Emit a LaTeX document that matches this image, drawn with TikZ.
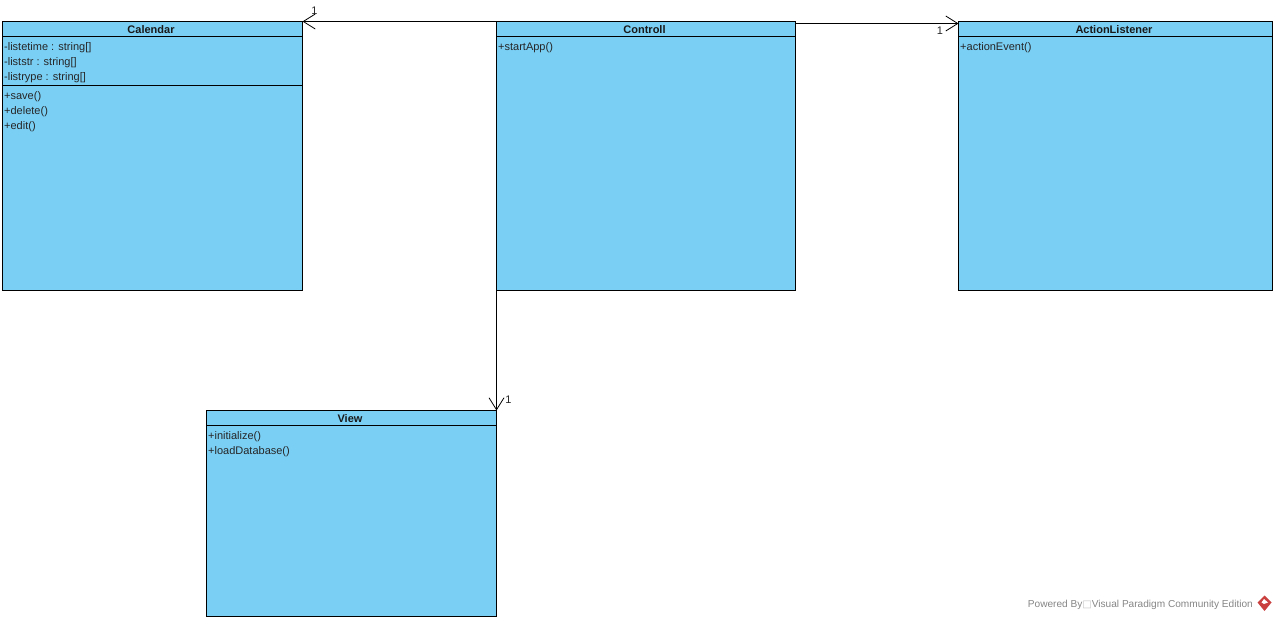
\documentclass[tikz,border=0pt]{standalone}
\usepackage{fontspec}
\setmainfont{Liberation Sans}
\newfontfamily\boxfont{DejaVu Sans}
\usetikzlibrary{arrows.meta}
\definecolor{classblue}{HTML}{7ACFF5}
\definecolor{stampgray}{HTML}{858585}
\definecolor{stampred}{HTML}{C9403F}
\tikzset{
	part/.style={draw=black, fill=classblue, line width=1pt, inner sep=0pt, outer sep=0pt, anchor=north west},
	classname/.style={font=\fontsize{11}{13}\selectfont\bfseries, inner sep=0pt, text=black!90, yshift=-0.7pt},
	member/.style={font=\fontsize{11}{13}\selectfont, inner sep=0pt, anchor=west, text=black!85},
	multi/.style={font=\fontsize{11}{13}\selectfont, inner sep=0pt, text=black!85},
	assoc/.style={draw=black, line width=1pt, -{Straight Barb[length=12pt,width=15pt,line width=0.8pt]}}
}

\begin{document}
\begin{tikzpicture}[x=1pt, y=-1pt]
				%%%%% START %%%%%
				\useasboundingbox (0, 0) rectangle (1276, 620);
				
				% Calendar
				\node[part, minimum width=300pt, minimum height=15pt] (Calendar) at (2.5, 21.5) {};
				\node[part, minimum width=300pt, minimum height=49pt] (CalendarAttrs) at (2.5, 36.5) {};
				\node[part, minimum width=300pt, minimum height=205pt] (CalendarOps) at (2.5, 85.5) {};
				\node[classname] (CalendarName) at ([xshift=-1.5pt]Calendar.center) {Calendar};
				\node[member] (listetime) at (4, 47.5) {-listetime : string[]};
				\node[member] (liststr) at (4, 62.5) {-liststr : string[]};
				\node[member] (listrype) at (4, 77.5) {-listrype : string[]};
				\node[member] (save) at (4, 96.5) {+save()};
				\node[member] (delete) at (4, 111.5) {+delete()};
				\node[member] (edit) at (4, 126.5) {+edit()};
				
				% Controll
				\node[part, minimum width=299pt, minimum height=15pt] (Controll) at (496.5, 21.5) {};
				\node[part, minimum width=299pt, minimum height=254pt] (ControllOps) at (496.5, 36.5) {};
				\node[classname] (ControllName) at ([xshift=-1.5pt]Controll.center) {Controll};
				\node[member] (startApp) at (498, 47.5) {+startApp()};
				
				% ActionListener
				\node[part, minimum width=314pt, minimum height=15pt] (ActionListener) at (958.5, 21.5) {};
				\node[part, minimum width=314pt, minimum height=254pt] (ActionListenerOps) at (958.5, 36.5) {};
				\node[classname] (ActionListenerName) at ([xshift=-1.5pt]ActionListener.center) {ActionListener};
				\node[member] (actionEvent) at (960, 47.5) {+actionEvent()};
				
				% View
				\node[part, minimum width=290pt, minimum height=15pt] (View) at (206.5, 410.5) {};
				\node[part, minimum width=290pt, minimum height=191pt] (ViewOps) at (206.5, 425.5) {};
				\node[classname] (ViewName) at ([xshift=-1.5pt]View.center) {View};
				\node[member] (initialize) at (208, 436.5) {+initialize()};
				\node[member] (loadDatabase) at (208, 451.5) {+loadDatabase()};
				
				% associations
				\coordinate (ControllOut) at ([yshift=-2pt]Controll.north east);
				\coordinate (ListenerIn) at ([yshift=-2pt]ActionListener.north west);
				\draw[assoc] (Controll.north west) -- (Calendar.north east);
				\draw[assoc] (ControllOut) -- (ListenerIn);
				\draw[assoc] (ControllOps.south west) -- (View.north east);
				
				\node[multi] (oneCalendar) at (314.5, 11) {1};
				\node[multi] (oneListener) at (940, 30.5) {1};
				\node[multi] (oneView) at (508.5, 399.5) {1};
				
				% stamp
				\node[font=\fontsize{10.1}{12}\selectfont, inner sep=0pt, anchor=east, text=stampgray] (stamp) at (1253, 604.5) {Powered By{\boxfont\fontsize{10}{8}\selectfont\color{stampgray!50}□}Visual Paradigm Community Edition};
				\draw[fill=stampred, draw=none] (1264.5, 595.5) -- (1271.5, 602.5) -- (1264.5, 611) -- (1257.5, 602.5) -- cycle;
				\draw[fill=white, draw=none] (1264, 599) -- (1268, 602.5) -- (1264, 604) -- (1261.5, 602.5) -- cycle;
				%%%%% END %%%%%
			\end{tikzpicture}
\end{document}
